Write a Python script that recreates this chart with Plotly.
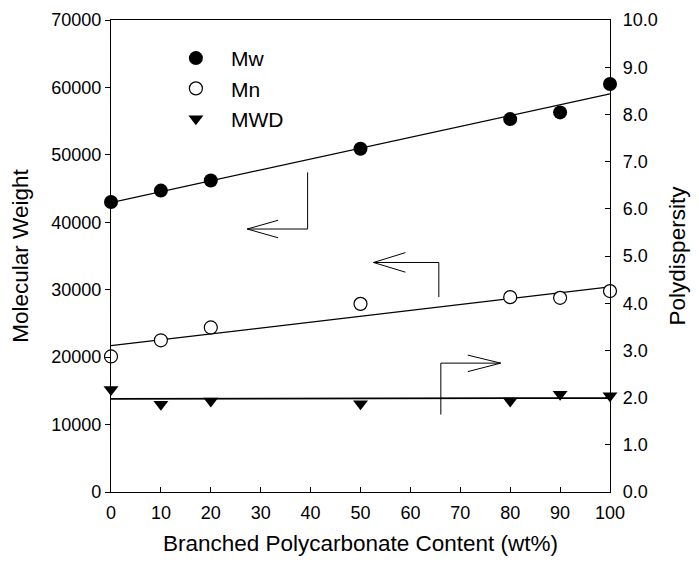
import numpy as np
import plotly.graph_objects as go

# Branched polycarbonate content (wt%)
content = [0, 10, 20, 50, 80, 90, 100]
# Weight-average and number-average molecular weight
mw = [43000, 44700, 46200, 50900, 55300, 56300, 60500]
mn = [20100, 22500, 24400, 27900, 28900, 28800, 29800]
# Polydispersity (Mw/Mn)
mwd = [2.17, 1.86, 1.93, 1.87, 1.93, 2.07, 2.04]

y_ticks = [0, 10000, 20000, 30000, 40000, 50000, 60000, 70000]
y_ticktext = ["0", "10000", "20000", "30000", "40000", "50000", "60000", "70000"]
y2_ticks = [0, 1, 2, 3, 4, 5, 6, 7, 8, 9, 10]
x_ticks = [0, 10, 20, 30, 40, 50, 60, 70, 80, 90, 100]

FONT = "Liberation Sans, Arial, sans-serif"
TITLE_SIZE = 22.5
xs = np.array(content, dtype=float)
x_line = np.array([0.0, 100.0])


def linear_fit(y):
    k, b = np.polyfit(xs, np.array(y, dtype=float), 1)
    return k * x_line + b


fig = go.Figure()

# regression lines
fig.add_trace(go.Scatter(x=x_line, y=linear_fit(mw), mode="lines",
                         line=dict(color="black", width=1.2),
                         showlegend=False, hoverinfo="skip", cliponaxis=False))
fig.add_trace(go.Scatter(x=x_line, y=linear_fit(mn), mode="lines",
                         line=dict(color="black", width=1.2),
                         showlegend=False, hoverinfo="skip", cliponaxis=False))
fig.add_trace(go.Scatter(x=x_line, y=linear_fit(mwd), mode="lines", yaxis="y2",
                         line=dict(color="black", width=1.8),
                         showlegend=False, hoverinfo="skip", cliponaxis=False))

# data points
fig.add_trace(go.Scatter(x=content, y=mw, mode="markers", name="Mw",
                         legendgroup="a", cliponaxis=False,
                         marker=dict(symbol="circle", size=14, color="black",
                                     line=dict(color="black", width=0))))
fig.add_trace(go.Scatter(x=content, y=mn, mode="markers", name="Mn",
                         legendgroup="b", cliponaxis=False,
                         marker=dict(symbol="circle", size=13, color="white",
                                     line=dict(color="black", width=1.2))))
fig.add_trace(go.Scatter(x=content, y=mwd, mode="markers", name="MWD", yaxis="y2",
                         legendgroup="c", cliponaxis=False,
                         marker=dict(symbol="triangle-down", size=13, color="black",
                                     line=dict(color="black", width=0))))

# axis-pointing arrows (open heads)
arrow_line = dict(color="black", width=1)
arrows = [
    # Mw -> left axis
    ("x", "y", "M 39.4,47400 L 39.4,39000 L 27.3,39000 M 33.5,40300 L 27.3,39000 L 33.5,37700"),
    # Mn -> left axis
    ("x", "y", "M 65.7,28900 L 65.7,34040 L 52.6,34040 M 59.0,35500 L 52.6,34040 L 59.0,32600"),
    # MWD -> right axis
    ("x", "y2", "M 66.1,1.64 L 66.1,2.73 L 78.1,2.73 M 71.5,2.90 L 78.1,2.73 L 71.5,2.55"),
]
for xr, yr, p in arrows:
    fig.add_shape(type="path", path=p, xref=xr, yref=yr, line=arrow_line)

axis_common = dict(showgrid=False, zeroline=False, showline=True, linecolor="black",
                   linewidth=1.2, ticks="outside", tickcolor="black", ticklen=5,
                   automargin=False,
                   tickfont=dict(family=FONT, size=18, color="black"))

fig.update_layout(
    width=699, height=565,
    margin=dict(l=111, r=89, t=20, b=73),
    paper_bgcolor="white", plot_bgcolor="white",
    font=dict(family=FONT, color="black"),
    xaxis=dict(axis_common, range=[0, 100], tickmode="array", tickvals=x_ticks,
               ticks="inside", mirror=True, ticklabelstandoff=4,
               title=dict(text="Branched Polycarbonate Content (wt%)",
                          font=dict(family=FONT, size=TITLE_SIZE), standoff=13)),
    yaxis=dict(axis_common, range=[0, 70000], tickmode="array", tickvals=y_ticks,
               ticktext=y_ticktext, ticklabelstandoff=0,
               title=dict(text="Molecular Weight", font=dict(family=FONT, size=TITLE_SIZE),
                          standoff=16)),
    yaxis2=dict(axis_common, range=[0, 10], overlaying="y", side="right",
                tickmode="array", tickvals=y2_ticks, tickformat=".1f",
                ticks="inside", ticklabelstandoff=8,
                title=dict(text="Polydispersity", font=dict(family=FONT, size=TITLE_SIZE),
                           standoff=12)),
    legend=dict(x=0.1, y=0.962, xanchor="left", yanchor="top",
                bgcolor="rgba(0,0,0,0)", itemwidth=60,
                traceorder="grouped", tracegroupgap=0,
                font=dict(family=FONT, size=21, color="black")),
)

fig.write_html("out.html")
